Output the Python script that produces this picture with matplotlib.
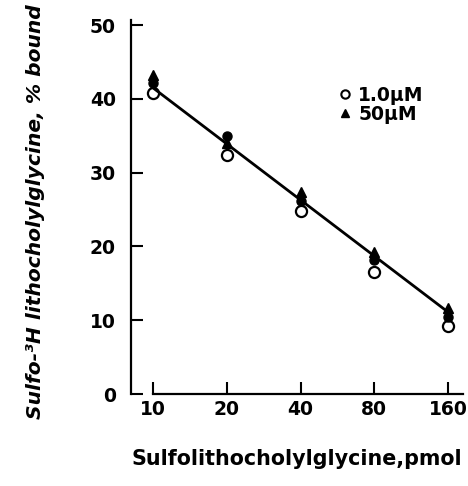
import matplotlib
matplotlib.use("Agg")
import matplotlib.pyplot as plt  # noqa: E402
from matplotlib.lines import Line2D  # noqa: E402

# sulfolithocholylglycine added (pmol) vs % of labelled tracer bound
CONC = [10, 20, 40, 80, 160]
BOUND_1UM = [40.8, 32.4, 24.8, 16.5, 9.2]      # open circles
BOUND_50UM = [43.2, 34.0, 27.4, 19.2, 11.6]    # filled triangles
BOUND_MEAN = [42.1, 35.0, 26.2, 18.2, 10.4]    # filled circles (no legend entry)
FIT_X = [10, 160]
FIT_Y = [41.5, 11.1]
XTICKS = [10, 20, 40, 80, 160]
YTICKS = [0, 10, 20, 30, 40, 50]

W, H = 468, 486
plt.rcParams["font.family"] = ["DejaVu Sans"]
plt.rcParams["font.weight"] = "bold"

fig = plt.figure(figsize=(W / 100, H / 100), dpi=100)
ax = fig.add_axes([131 / W, 1 - 394 / H, (463 - 131) / W, (394 - 20) / H])

ax.plot(CONC, BOUND_1UM, ls="", marker="o", ms=8, mfc="white", mec="black", mew=1.6, zorder=2)
ax.plot(FIT_X, FIT_Y, color="black", lw=2.0, zorder=3)
ax.plot(CONC, BOUND_MEAN, ls="", marker="o", ms=6.5, color="black", zorder=4)
ax.plot(CONC, BOUND_50UM, ls="", marker="^", ms=7.5, color="black", zorder=5)

ax.set_xscale("log", base=2)
ax.set_xlim(8.13, 184)
ax.set_ylim(0, 50.7)
ax.set_xticks(XTICKS)
ax.set_xticklabels([str(t) for t in XTICKS])
ax.minorticks_off()
ax.set_yticks(YTICKS)

for s in ("top", "right"):
    ax.spines[s].set_visible(False)
ax.spines["left"].set_linewidth(1.6)
ax.spines["bottom"].set_linewidth(1.6)
ax.spines["bottom"].set_bounds(10, 184)
ax.tick_params(axis="both", direction="in", length=8.5, width=1.5, labelsize=13.5)
ax.tick_params(axis="y", pad=11)
ax.tick_params(axis="x", pad=4)

ax.set_xlabel("Sulfolithocholylglycine,pmol", fontsize=14.9, fontweight="bold", labelpad=22)
fig.text(36 / W, 1 - 212 / H, "Sulfo-³H lithocholylglycine, % bound", rotation=90,
         fontsize=14.6, fontstyle="italic", fontweight="bold", ha="center", va="center")

handles = [Line2D([0], [0], ls="", marker="o", ms=6, mfc="white", mec="black", mew=1.5,
                  label="1.0µM"),
           Line2D([0], [0], ls="", marker="^", ms=6, color="black", label="50µM")]
ax.legend(handles=handles, loc="upper left", bbox_to_anchor=(339.5 / W, 1 - 86 / H),
          bbox_transform=fig.transFigure, frameon=False, handlelength=0.6,
          handletextpad=0.4, borderpad=0, borderaxespad=0, labelspacing=0.0,
          prop={"weight": "bold", "size": 13.5})

fig.savefig("out.png", dpi=100)
